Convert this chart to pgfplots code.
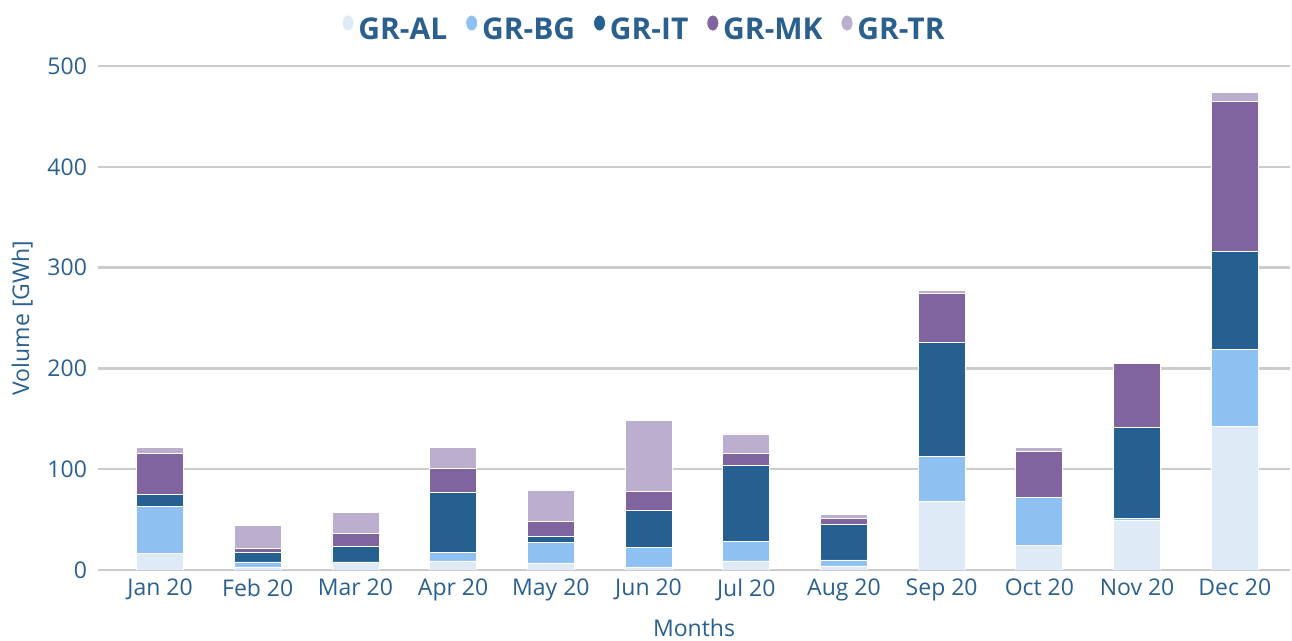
\documentclass[border=0pt]{standalone}
\usepackage{pgfplots}
\pgfplotsset{compat=1.18}
\usepackage{fontspec}
\setmainfont{Open Sans}
\definecolor{txt}{HTML}{2A5F8E}
\definecolor{cAL}{HTML}{DEEAF6}
\definecolor{cBG}{HTML}{8EC1F2}
\definecolor{cIT}{HTML}{256090}
\definecolor{cMK}{HTML}{8064A0}
\definecolor{cTR}{HTML}{BCAECE}
\definecolor{gridc}{HTML}{CCCCCC}
\begin{document}
\begin{tikzpicture}
\begin{axis}[
  scale only axis,
  width=596pt, height=252pt,
  xmin=-0.635, xmax=11.565,
  ymin=0, ymax=500,
  ytick={0,100,...,500},
  xtick={0,...,11},
  xticklabels={Jan 20,Feb 20,Mar 20,Apr 20,May 20,Jun 20,Jul 20,Aug 20,Sep 20,Oct 20,Nov 20,Dec 20},
  ybar stacked, bar width=23.5pt,
  axis line style={draw=none},
  tick style={draw=none},
  xmajorgrids=false,
  ymajorgrids, grid style={draw=gridc, line width=1.2pt},
  /pgf/number format/assume math mode=true,
  ticklabel style={font=\fontsize{11.5}{13}\selectfont, text=txt},
  xticklabel style={yshift=-1pt},
  yticklabel style={xshift=-2pt},
  xlabel={Months}, ylabel={Volume [GWh]},
  label style={font=\fontsize{11.5}{13}\selectfont, text=txt},
  xlabel style={yshift=-2pt},
  ylabel style={yshift=0.5pt},
  legend columns=5,
  legend style={at={(0.459,1.071)}, anchor=center, draw=none, fill=none,
    font=\fontsize{15}{17}\bfseries\selectfont, text=txt,
    /tikz/every even column/.append style={column sep=7pt}},
  legend image code/.code={\fill[#1] (0.3em,0.36em) ellipse (0.3em and 0.4em);},
  every axis plot/.append style={draw=white, line width=0.4pt},
]
\addplot[fill=cAL] coordinates {(0,16) (1,3) (2,8) (3,9) (4,7) (5,3) (6,9) (7,4) (8,68) (9,24) (10,49) (11,142)};
\addplot[fill=cBG] coordinates {(0,47) (1,5) (2,0) (3,8) (4,20) (5,19) (6,19) (7,6) (8,45) (9,48) (10,2) (11,77)};
\addplot[fill=cIT] coordinates {(0,12) (1,9) (2,15) (3,60) (4,6) (5,37) (6,76) (7,35) (8,113) (9,0) (10,90) (11,97)};
\addplot[fill=cMK] coordinates {(0,41) (1,4) (2,13) (3,24) (4,15) (5,19) (6,12) (7,6) (8,48) (9,46) (10,64) (11,149)};
\addplot[fill=cTR] coordinates {(0,6) (1,23) (2,21) (3,21) (4,31) (5,70) (6,19) (7,4) (8,3) (9,4) (10,0) (11,9)};
\legend{GR-AL,GR-BG,GR-IT,GR-MK,GR-TR}
\end{axis}
\pgfresetboundingbox
\path[use as bounding box] (-49pt,-35.5pt) rectangle (597pt,285pt);
\end{tikzpicture}
\end{document}
